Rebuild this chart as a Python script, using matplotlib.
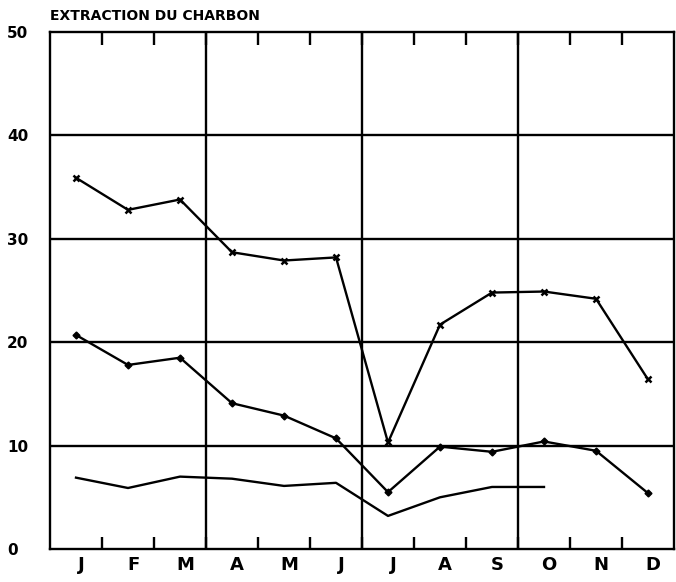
import matplotlib
matplotlib.use("Agg")
import matplotlib.pyplot as plt
import numpy as np

months = ["J", "F", "M", "A", "M", "J", "J", "A", "S", "O", "N", "D"]
serie_croix = [35.9, 32.8, 33.8, 28.7, 27.9, 28.2, 10.3, 21.7, 24.8, 24.9, 24.2, 16.4]
serie_points = [20.7, 17.8, 18.5, 14.1, 12.9, 10.7, 5.5, 9.9, 9.4, 10.4, 9.5, 5.4]
serie_ligne = [6.9, 5.9, 7.0, 6.8, 6.1, 6.4, 3.2, 5.0, 6.0, 6.0]
y_ticks = [0, 10, 20, 30, 40, 50]


def draw(ax):
    x = np.arange(len(months)) + 0.5
    lw = 1.7

    # grid: horizontal every 10, vertical at quarters
    for yv in y_ticks[1:-1]:
        ax.axhline(yv, color="black", lw=lw, zorder=1)
    for q in (3, 6, 9):
        ax.axvline(q, color="black", lw=lw, zorder=1)

    ax.plot(x, serie_croix, color="black", lw=lw, marker="x", ms=5, mew=1.8, zorder=3)
    ax.plot(x, serie_points, color="black", lw=lw, marker="D", ms=3.5, zorder=3)
    ax.plot(x[:len(serie_ligne)], serie_ligne, color="black", lw=lw, zorder=3)

    ax.set_xlim(0, 12)
    ax.set_ylim(0, 50)

    # month ticks on the boundaries, labels in the middle
    ax.set_xticks(np.arange(1, 12), minor=False)
    ax.set_xticklabels([])
    ax.tick_params(axis="x", which="major", direction="in", length=9, width=lw,
                   top=True, bottom=True)
    ax.set_xticks(x + 0.1, minor=True)
    ax.set_xticklabels(months, minor=True, fontsize=13, fontweight="bold")
    ax.tick_params(axis="x", which="minor", length=0, pad=5)

    ax.set_yticks(y_ticks)
    ax.set_yticklabels([str(v) for v in y_ticks], fontsize=11, fontweight="bold")
    ax.tick_params(axis="y", length=0, pad=31)
    for lab in ax.get_yticklabels():
        lab.set_horizontalalignment("left")

    for s in ax.spines.values():
        s.set_linewidth(lw)

    ax.text(0, 50.9, "EXTRACTION DU CHARBON", fontsize=10, fontweight="bold",
            ha="left", va="bottom")


fig = plt.figure(figsize=(6.76, 5.82), dpi=100)
ax = fig.add_axes([50 / 676, 33 / 582, 624 / 676, 517 / 582])
draw(ax)
fig.savefig("out.png", dpi=100)
